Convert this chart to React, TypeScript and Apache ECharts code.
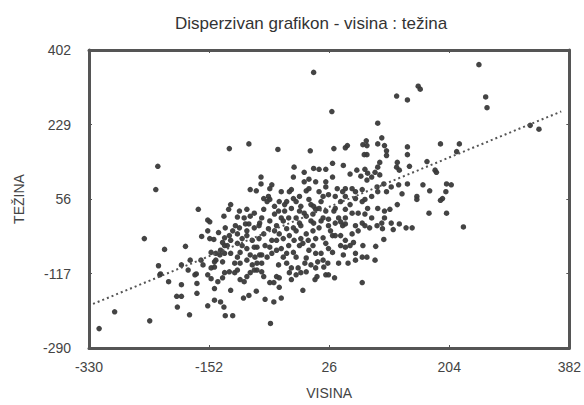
import React, { useEffect, useRef } from "react";
import * as echarts from "echarts";

const titleText = "Disperzivan grafikon - visina : težina";
const xAxisName = "VISINA";
const yAxisName = "TEŽINA";

const xTicks = [-330, -152, 26, 204, 382];
const yTicks = [-290, -117, 56, 229, 402];

// [visina, težina]: outlying points
const outerPoints: [number, number][] = [
  [3, 350], [248, 368], [258, 293], [260, 268], [324, 227], [337, 218],
  [158, 318], [161, 311], [126, 295], [142, 286], [30, 259], [98, 232],
  [-93, 184], [-122, 173], [-50, 171], [-2, 168], [33, 173], [50, 175],
  [53, 180], [-228, 132], [-231, 78], [-315, -245], [-292, -206], [-240, -227],
  [-248, -36], [-218, -61], [-187, -54], [225, -9], [-61, -233], [75, -138],
];

// upper-right part of the cloud
const upperPoints: [number, number][] = [
  [104, 198], [81, 191], [82, 180], [98, 184], [108, 180], [111, 168],
  [111, 157], [82, 159], [142, 177], [142, 159], [191, 184], [219, 184],
  [215, 166], [76, 182], [78, 159], [-26, 130], [-11, 118], [3, 127],
  [11, 125], [21, 125], [31, 139], [47, 134], [171, 143], [127, 141],
  [126, 130], [130, 123], [145, 132], [183, 123], [185, 118], [101, 141],
  [98, 130], [94, 118], [101, 112], [79, 125], [83, 116], [89, 107],
  [82, 100], [-75, 107], [-75, 91], [-59, 89], [-62, 80], [-64, 62],
  [-62, 55], [-27, 107], [57, 114], [67, 123], [73, 109], [-11, 96],
  [-4, 102], [6, 96], [21, 96], [31, 107], [107, 91], [118, 84],
  [129, 89], [142, 91], [165, 89], [134, 68], [97, 84], [98, 73],
  [111, 73], [200, 91], [207, 89], [199, 73], [156, 62], [156, 55],
  [194, 57], [191, 53], [175, 75], [79, 55], [89, 62], [83, 34],
  [98, 34], [108, 28], [116, 32], [127, 43], [174, 23], [200, 23],
  [79, 21], [89, 12], [108, 12], [-91, 78], [-82, 75],
];

// central part of the cloud
const centralPoints: [number, number][] = [
  [38, 80], [46, 73], [50, 80], [60, 80], [65, 73], [75, 78],
  [-45, 73], [-33, 73], [-30, 78], [-8, 75], [-4, 80], [-18, 62],
  [11, 73], [17, 62], [21, 84], [25, 66], [35, 62], [50, 62],
  [65, 57], [75, 50], [-71, 57], [-66, 50], [-48, 50], [-37, 50],
  [-27, 57], [-23, 50], [-4, 55], [-1, 43], [3, 39], [6, 32],
  [-71, 32], [-49, 28], [-40, 28], [-30, 34], [-18, 28], [-11, 23],
  [11, 34], [21, 28], [35, 34], [50, 32], [60, 23], [69, 23],
  [-74, 12], [-55, 21], [-45, 12], [-23, 12], [-8, 16], [2, 21],
  [17, 12], [25, 9], [40, 12], [50, 12], [-168, 32], [-120, 43],
  [-123, 32], [-130, 16], [-107, 28], [-96, 32], [-85, 23], [-110, 14],
  [-100, 12], [-91, 16], [-154, 7], [-151, 3], [-154, -18], [-163, -31],
  [-151, -36], [-145, -38], [-138, -22], [-8, -25], [2, -18], [11, -11],
  [25, -6], [35, 0], [46, -6], [50, -2], [17, -34], [21, -47],
  [25, -59], [31, -68], [2, -52], [6, -36], [-34, -52], [-45, -59],
  [-13, -47], [-16, -36], [-23, -18], [-27, -11], [-37, -13], [-52, -6],
  [-55, -18], [-78, -6], [-77, 0], [31, -29], [-62, 5], [-42, 5],
  [-18, 0], [3, 0], [43, 3], [65, -6], [75, 0], [-52, -40],
  [-42, -36], [-33, -29], [-71, -25], [-78, -36], [-64, -13], [35, -29],
  [60, -25], [69, -18], [-40, 43], [-16, 39], [14, 50], [43, 50],
  [57, 43], [-55, 39], [-34, 12], [-1, 5], [28, -18], [43, -29],
  [-5, -40], [-26, -40], [-48, -25], [-59, -40], [14, 5], [33, 28],
  [-16, -6], [-113, -6], [-93, -2], [-85, -11], [-96, -18], [-110, -25],
  [-107, -11], [-117, -18], [-128, -11], [-98, -2], [79, -6], [86, -11],
  [97, -6], [104, 0], [105, -13], [118, 0], [121, -15], [130, -2],
  [140, -11], [149, -11], [107, -38], [95, -54],
];

// lower part of the cloud
const lowerPoints: [number, number][] = [
  [-227, -99], [-225, -120], [-212, -136], [-193, -97], [-180, -86], [-200, -170],
  [-193, -170], [-199, -195], [-193, -143], [-181, -213], [-171, -118], [-170, -140],
  [-170, -163], [-154, -192], [-144, -179], [-135, -183], [-130, -195], [-128, -215],
  [-117, -215], [-120, -156], [-101, -174], [-93, -168], [-82, -158], [-69, -177],
  [-56, -183], [-45, -174], [-62, -138], [-48, -149], [-13, -156], [-149, -104],
  [-144, -90], [-136, -74], [-135, -63], [-129, -52], [5, -131], [8, -124],
  [21, -120], [25, -120], [34, -127], [18, -102], [6, -104], [-8, -113],
  [-16, -115], [-10, -93], [-20, -104], [-33, -115], [-30, -131], [-81, -109],
  [-74, -113], [-71, -124], [-56, -138], [-52, -124], [-48, -127], [-42, -79],
  [-37, -93], [-30, -104], [65, -70], [75, -79], [76, -52], [62, -45],
  [47, -74], [50, -56], [50, -40], [6, -70], [17, -86], [9, -90],
  [-8, -81], [-4, -63], [-23, -79], [-27, -68], [-18, -52], [-66, -79],
  [-77, -74], [-59, -70], [-62, -56], [54, -93], [65, -86], [40, -93],
  [24, -93], [-81, -56], [-81, -93], [-74, -93], [-144, -152], [-224, -118],
  [-183, -109], [-173, -120], [-154, -120], [-149, -129], [-139, -136], [-132, -127],
  [-129, -115], [-122, -113], [-114, -115], [-110, -109], [-106, -131], [-100, -136],
  [-96, -124], [-91, -115], [-85, -109], [-144, -102], [-142, -86], [-132, -90],
  [-129, -70], [-149, -68], [-142, -70], [-120, -70], [-110, -79], [-114, -93],
  [-106, -93], [-96, -86], [-125, -52], [-120, -40], [-110, -47], [-103, -36],
  [-96, -29], [-132, -45], [-129, -34], [-122, -29], [-164, -86], [-161, -97],
  [-88, -40], [-85, -56], [-96, -59], [-106, -68], [-91, -74], [-84, -79],
  [82, -79], [94, -86], [57, -52], [14, -70], [43, -52], [-37, -70],
  [-49, -97], [-23, -120], [-1, -97], [-52, -63], [-74, -74], [-88, -97],
  [-103, -52], [-69, -52],
];

// dotted trend line
const trendX = [-324, 370];
const trendSlope = 0.644;
const trendIntercept = 21;

const allPoints = [...outerPoints, ...upperPoints, ...centralPoints, ...lowerPoints];
const trendData = trendX.map((x) => [x, trendSlope * x + trendIntercept]);

const FONT = "Liberation Sans, Arial, sans-serif";
const AXIS_COLOR = "#555555";
const TEXT_COLOR = "#444444";

export default function App() {
  const ref = useRef<HTMLDivElement>(null);

  useEffect(() => {
    if (!ref.current) return;
    const chart = echarts.init(ref.current, undefined, { renderer: "svg" });
    const xMin = xTicks[0];
    const xMax = xTicks[xTicks.length - 1];
    const yMin = yTicks[0];
    const yMax = yTicks[yTicks.length - 1];
    const xInterval = xTicks[1] - xTicks[0];
    const yInterval = yTicks[1] - yTicks[0];

    const axisLine = { show: true, onZero: false, lineStyle: { color: AXIS_COLOR, width: 3 } };
    const innerTick = { show: true, inside: true, length: 3, lineStyle: { color: AXIS_COLOR, width: 1 } };

    chart.setOption({
      animation: false,
      backgroundColor: "#ffffff",
      title: {
        text: titleText,
        left: 170,
        top: 10,
        textStyle: { fontFamily: FONT, fontSize: 17, fontWeight: "normal", color: "#333333" },
      },
      grid: { left: 89, right: 6, top: 50, bottom: 50, containLabel: false },
      xAxis: [
        {
          type: "value",
          min: xMin,
          max: xMax,
          interval: xInterval,
          position: "bottom",
          name: xAxisName,
          nameLocation: "middle",
          nameGap: 38,
          nameTextStyle: { fontFamily: FONT, fontSize: 14, color: TEXT_COLOR },
          axisLine,
          axisTick: innerTick,
          splitLine: { show: false },
          axisLabel: { fontFamily: FONT, fontSize: 14, color: TEXT_COLOR, margin: 12, showMinLabel: true, showMaxLabel: true },
        },
        {
          type: "value",
          min: xMin,
          max: xMax,
          interval: xInterval,
          position: "top",
          axisLine,
          axisTick: innerTick,
          splitLine: { show: false },
          axisLabel: { show: false },
        },
      ],
      yAxis: [
        {
          type: "value",
          min: yMin,
          max: yMax,
          interval: yInterval,
          position: "left",
          name: yAxisName,
          nameLocation: "middle",
          nameGap: 63,
          nameTextStyle: { fontFamily: FONT, fontSize: 14, color: TEXT_COLOR },
          axisLine,
          axisTick: innerTick,
          splitLine: { show: false },
          axisLabel: { fontFamily: FONT, fontSize: 14, color: TEXT_COLOR, margin: 18, showMinLabel: true, showMaxLabel: true },
        },
        {
          type: "value",
          min: yMin,
          max: yMax,
          interval: yInterval,
          position: "right",
          axisLine,
          axisTick: innerTick,
          splitLine: { show: false },
          axisLabel: { show: false },
        },
      ],
      series: [
        {
          type: "scatter",
          data: allPoints,
          symbol: "circle",
          symbolSize: 5.5,
          itemStyle: { color: "#3a3a3a", opacity: 0.95 },
          silent: true,
          z: 2,
        },
        {
          type: "line",
          data: trendData,
          showSymbol: false,
          symbol: "none",
          lineStyle: { color: "#555555", width: 2, type: [2, 3] },
          silent: true,
          z: 3,
        },
      ],
    });
    return () => chart.dispose();
  }, []);

  return (
    <div
      ref={ref}
      style={{ position: "fixed", left: 0, top: 0, width: 584, height: 405, background: "#fff" }}
    />
  );
}
